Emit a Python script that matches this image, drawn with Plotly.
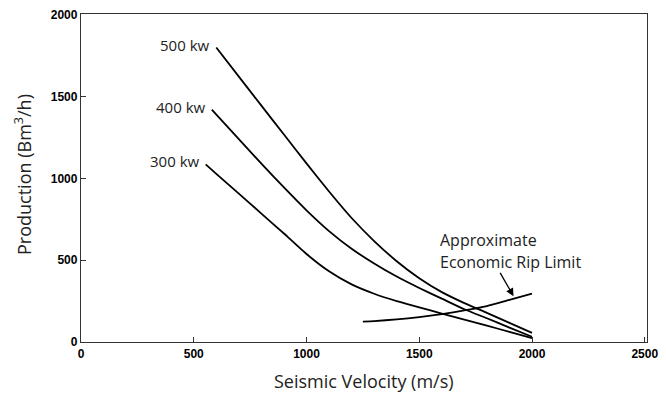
import plotly.graph_objects as go

# Data
v500 = [600, 700, 800, 900, 1000, 1100, 1200, 1300, 1400, 1500, 1600, 1700, 1800, 1900, 2000]
p500 = [1800, 1622, 1445, 1268, 1092, 920, 758, 617, 494, 390, 305, 238, 178, 117, 56]

v400 = [580, 700, 800, 900, 1000, 1100, 1200, 1300, 1400, 1500, 1600, 1700, 1800, 1900, 2000]
p400 = [1420, 1240, 1090, 945, 805, 678, 570, 480, 400, 330, 265, 200, 145, 88, 32]

v300 = [553, 600, 700, 800, 900, 1000, 1100, 1200, 1300, 1400, 1500, 1600, 1700, 1800, 1900, 2000]
p300 = [1086, 1028, 907, 785, 663, 538, 432, 352, 295, 250, 212, 174, 137, 100, 62, 24]

v_econ = [1250, 1300, 1400, 1500, 1600, 1700, 1800, 1900, 2000]
p_econ = [125, 128, 138, 152, 170, 193, 220, 257, 295]

curve_labels = ["500 kw", "400 kw", "300 kw"]
x_ticks = [0, 500, 1000, 1500, 2000, 2500]
y_ticks = [0, 500, 1000, 1500, 2000]

fig = go.Figure()
for vx, py in [(v500, p500), (v400, p400), (v300, p300), (v_econ, p_econ)]:
    fig.add_trace(go.Scatter(x=vx, y=py, mode="lines", line=dict(color="black", width=1.8, shape="spline", smoothing=0.5),
                             showlegend=False, hoverinfo="skip"))

lab_font = dict(family="Open Sans, Noto Sans, sans-serif", size=15, color="#222")
for lab, vx, py in zip(curve_labels, [v500, v400, v300], [p500, p400, p300]):
    fig.add_annotation(x=vx[0], y=py[0], text=lab, showarrow=False, xanchor="right", yanchor="middle",
                       xshift=-4, yshift=3, font=lab_font)

note_font = dict(family="Open Sans, Noto Sans, sans-serif", size=16, color="#222")
fig.add_annotation(x=1585, y=624, text="Approximate", showarrow=False, xanchor="left", yanchor="middle", font=note_font)
fig.add_annotation(x=1585, y=492, text="Economic Rip Limit", showarrow=False, xanchor="left", yanchor="middle", font=note_font)
fig.add_annotation(x=1918, y=280, ax=1855, ay=432, axref="x", ayref="y", xref="x", yref="y", text="",
                   showarrow=True, arrowhead=2, arrowsize=1.2, arrowwidth=1.3, arrowcolor="black")

title_font = dict(family="Open Sans, Noto Sans, sans-serif", size=18, color="#222")
fig.add_annotation(xref="paper", yref="paper", x=0.5, y=0, yshift=-39, text="Seismic Velocity (m/s)",
                   showarrow=False, yanchor="middle", font=title_font)
fig.add_annotation(xref="paper", yref="paper", x=0, y=0.5, xshift=-58, yshift=3, text="Production (Bm<sup>3</sup>/h)",
                   showarrow=False, xanchor="center", yanchor="middle", textangle=-90, font=title_font)

tick_font = dict(family="Liberation Sans, Arial, sans-serif", size=12, color="black", weight="bold")
fig.update_xaxes(range=[0, 2510], tickvals=x_ticks, ticktext=[str(t) for t in x_ticks], ticks="inside", ticklen=5,
                 tickcolor="#333", showline=True, linecolor="#333", linewidth=1.3, mirror=True, showgrid=False,
                 zeroline=False, tickfont=tick_font)
fig.update_yaxes(range=[0, 2005], tickvals=y_ticks, ticktext=[str(t) for t in y_ticks], ticks="inside", ticklen=5,
                 tickcolor="#333", showline=True, linecolor="#333", linewidth=1.3, mirror=True, showgrid=False,
                 zeroline=False, tickfont=tick_font)
fig.update_layout(width=666, height=395, margin=dict(l=81, r=12, t=8, b=53), plot_bgcolor="white",
                  paper_bgcolor="white")
fig.write_html("out.html")
